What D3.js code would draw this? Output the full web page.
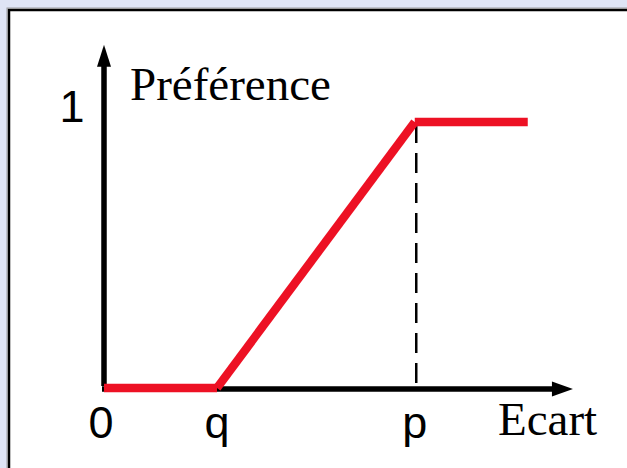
<!DOCTYPE html>
<html>
<head>
<meta charset="utf-8">
<script src="https://cdn.jsdelivr.net/npm/d3@7"></script>
<style>
  html, body { margin: 0; padding: 0; background: #dfe4f5; overflow: hidden; }
</style>
</head>
<body>
<div id="chart"></div>
<script>
// Data: preference function (type V with indifference threshold)
const ecartValues = [0, 2, 2, 5.5, 5.5, 7.5];   // x of each vertex
const prefValues  = [0, 0, 0, 1, 1, 1];         // preference at each vertex
const segments    = [[0, 1], [2, 3], [4, 5]];   // drawn as separate strokes
const tickLabels  = ["0", "q", "p"];
const tickValues  = [0, 2, 5.5];
const yTickLabels = ["1"];
const yTickValues = [1];
const xMax = 8.3, yMax = 1.29;

const width = 627, height = 468;
const sansFont = "'Liberation Sans', Arial, sans-serif";
const serifFont = "'Liberation Serif', 'Times New Roman', serif";

const svg = d3.select("#chart")
    .append("svg")
    .attr("width", width)
    .attr("height", height);

// Frame
svg.append("rect")
    .attr("x", 7).attr("y", 8)
    .attr("width", 700).attr("height", 500)
    .attr("fill", "white")
    .attr("stroke", "#9a9aa0")
    .attr("stroke-width", 1);
svg.append("rect")
    .attr("x", 9).attr("y", 10)
    .attr("width", 700).attr("height", 500)
    .attr("fill", "white")
    .attr("stroke", "black")
    .attr("stroke-width", 2.5);

// Scales
const x = d3.scaleLinear().domain([0, 1]).range([104, 160.5]);
const y = d3.scaleLinear().domain([0, 1]).range([388, 122]);

// Dashed drop line at p
svg.append("line")
    .attr("x1", x(tickValues[2]) + 1.5).attr("x2", x(tickValues[2]) + 1.5)
    .attr("y1", y(1) + 1).attr("y2", y(0) - 5)
    .attr("stroke", "black")
    .attr("stroke-width", 2.5)
    .attr("stroke-dasharray", "20,10");

// Axes with arrow heads
svg.append("line")
    .attr("x1", x(0) - 2).attr("x2", x(xMax) - 20)
    .attr("y1", y(0) + 1).attr("y2", y(0) + 1)
    .attr("stroke", "black").attr("stroke-width", 5.5);
svg.append("path")
    .attr("d", `M${x(xMax)},${y(0) + 1} L${x(xMax) - 21},${y(0) - 6.5} L${x(xMax) - 21},${y(0) + 8.5} Z`)
    .attr("fill", "black");

svg.append("line")
    .attr("x1", x(0)).attr("x2", x(0))
    .attr("y1", y(0) - 2).attr("y2", y(yMax) + 20)
    .attr("stroke", "black").attr("stroke-width", 5.5);
svg.append("path")
    .attr("d", `M${x(0)},${y(yMax)} L${x(0) - 7},${y(yMax) + 22} L${x(0) + 7},${y(yMax) + 22} Z`)
    .attr("fill", "black");

// Preference curve
svg.selectAll(".seg")
    .data(segments)
    .enter()
    .append("line")
    .attr("class", "seg")
    .attr("x1", d => x(ecartValues[d[0]]))
    .attr("y1", d => y(prefValues[d[0]]))
    .attr("x2", d => x(ecartValues[d[1]]))
    .attr("y2", d => y(prefValues[d[1]]))
    .attr("stroke", "#ed1124")
    .attr("stroke-width", 8.5)
    .attr("stroke-linecap", "butt");

// Tick labels
svg.selectAll(".xtick")
    .data(tickLabels)
    .enter()
    .append("text")
    .attr("class", "xtick")
    .attr("x", (d, i) => x(tickValues[i]) + (i === 0 ? -3 : 0))
    .attr("y", 438)
    .attr("text-anchor", "middle")
    .style("font-family", sansFont)
    .style("font-size", "45px")
    .text(d => d);

svg.selectAll(".ytick")
    .data(yTickLabels)
    .enter()
    .append("text")
    .attr("class", "ytick")
    .attr("x", 72)
    .attr("y", (d, i) => y(yTickValues[i]))
    .attr("text-anchor", "middle")
    .style("font-family", sansFont)
    .style("font-size", "45px")
    .text(d => d);

// Axis titles
svg.append("text")
    .attr("x", 130).attr("y", 100)
    .style("font-family", serifFont)
    .style("font-size", "47px")
    .text("Préférence");

svg.append("text")
    .attr("x", 498).attr("y", 435)
    .style("font-family", serifFont)
    .style("font-size", "47px")
    .text("Ecart");
</script>
</body>
</html>
